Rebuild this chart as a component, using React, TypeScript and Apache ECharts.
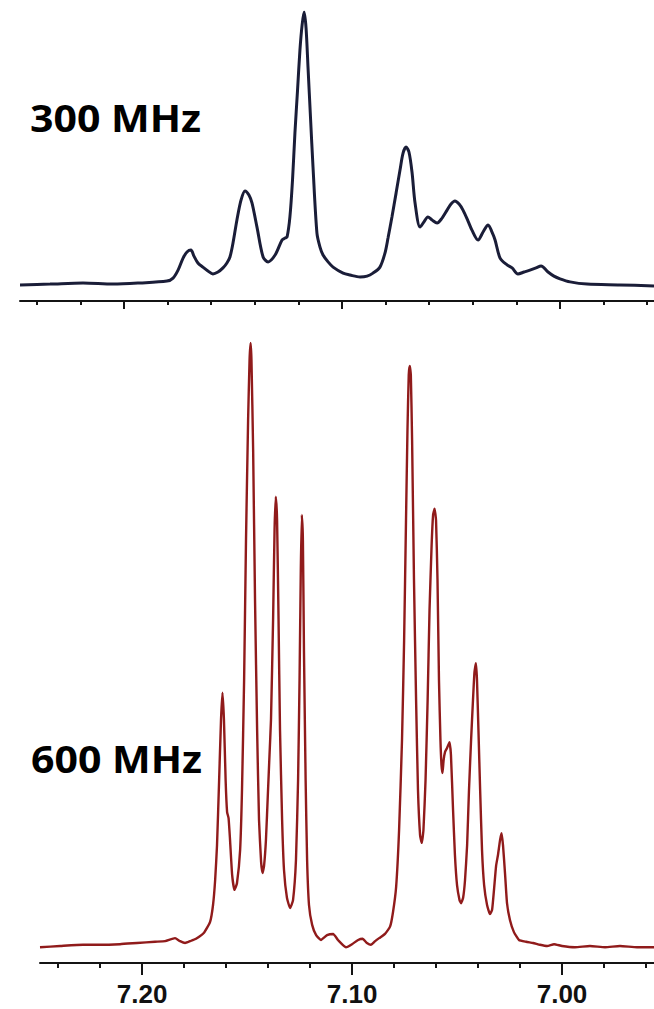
import React, { useEffect, useRef } from "react";
import * as echarts from "echarts";

// Chemical shift (ppm) vs. relative intensity (%), 300 MHz trace
const spectrum300: [number, number][] = [
  [7.2477, 0.4], [7.2339, 0.7], [7.2188, 1.1], [7.205, 0.7], [7.1927, 1.1],
  [7.1803, 1.8], [7.1775, 2.9], [7.1752, 5.8], [7.1729, 10.2], [7.1711, 12.4],
  [7.1693, 13.1], [7.1679, 10.9], [7.1661, 8.4], [7.1638, 6.9], [7.1615, 5.5],
  [7.1592, 4.4], [7.1569, 5.1], [7.1546, 6.6], [7.1528, 8.4], [7.1514, 10.6],
  [7.15, 15.7], [7.1482, 24.1], [7.1463, 31.4], [7.1445, 34.7], [7.1427, 33.2],
  [7.1413, 30.3], [7.139, 21.5], [7.1362, 10.6], [7.1339, 8.8], [7.1307, 11.3],
  [7.1275, 16.8], [7.1261, 17.5], [7.1252, 17.9], [7.1239, 25.2], [7.1227, 38.7],
  [7.1216, 55.8], [7.1204, 71.5], [7.1193, 86.1], [7.1183, 95.3], [7.1174, 100],
  [7.1165, 94.2], [7.1156, 79.9], [7.1144, 60.6], [7.1133, 43.4], [7.1115, 19.3],
  [7.1101, 14.2], [7.1087, 11.3], [7.1064, 8.8], [7.1041, 6.9], [7.0995, 4.7],
  [7.0963, 4.0], [7.0917, 3.3], [7.0885, 3.6], [7.0858, 4.7], [7.0826, 6.9],
  [7.0803, 12.0], [7.0789, 17.5], [7.0771, 25.2], [7.0752, 33.9], [7.0734, 42.3],
  [7.072, 48.5], [7.0706, 50.7], [7.0693, 48.9], [7.0679, 41.6], [7.0665, 30.3],
  [7.0642, 21.5], [7.0624, 23.4], [7.0606, 25.2], [7.0587, 24.1], [7.0564, 23.0],
  [7.0541, 24.8], [7.0518, 27.7], [7.05, 29.9], [7.0482, 31.0], [7.0463, 29.9],
  [7.0445, 27.7], [7.0422, 23.7], [7.0404, 20.4], [7.0376, 16.8], [7.0353, 19.7],
  [7.033, 22.3], [7.0312, 19.7], [7.0298, 16.8], [7.0275, 10.2], [7.0243, 7.7],
  [7.022, 6.6], [7.0193, 4.4], [7.0165, 5.1], [7.0138, 5.8], [7.011, 6.6],
  [7.0087, 7.3], [7.0055, 5.1], [7.0028, 3.6], [7.0, 2.6], [6.9954, 1.5],
  [6.9876, 0.7], [6.9725, 0.4], [6.9569, 0],
];

// Chemical shift (ppm) vs. relative intensity (%), 600 MHz trace
const spectrum600: [number, number][] = [
  [7.2486, -0.2], [7.239, 0], [7.2281, 0.2], [7.22, 0.2], [7.2105, 0.3],
  [7.2024, 0.5], [7.1938, 0.7], [7.189, 0.8], [7.1843, 1.3], [7.1819, 0.8],
  [7.1795, 0.5], [7.1771, 0.8], [7.1743, 1.2], [7.1705, 2.2], [7.1676, 4.0],
  [7.1662, 6.8], [7.1652, 10.9], [7.1643, 16.7], [7.1633, 27.5], [7.1624, 37.5],
  [7.1617, 42.0], [7.161, 37.5], [7.1602, 27.5], [7.1595, 22.2], [7.1588, 21.2],
  [7.1581, 17.6], [7.1571, 11.8], [7.156, 9.3], [7.1548, 10.4], [7.1533, 15.9],
  [7.1524, 25.9], [7.1514, 44.1], [7.1505, 67.3], [7.1495, 87.2], [7.1488, 97.2],
  [7.1483, 100], [7.1479, 97.2], [7.1471, 82.3], [7.1462, 57.4], [7.1452, 35.8],
  [7.1443, 20.9], [7.1433, 13.9], [7.1426, 12.1], [7.1419, 13.3], [7.141, 17.6],
  [7.14, 25.9], [7.1393, 31.7], [7.1386, 37.5], [7.1376, 54.1], [7.1369, 69.0],
  [7.1363, 74.5], [7.1357, 70.6], [7.135, 54.1], [7.1343, 35.8], [7.1333, 20.9],
  [7.1324, 12.6], [7.131, 8.0], [7.1295, 6.3], [7.1281, 7.6], [7.1267, 14.3],
  [7.1257, 27.5], [7.125, 44.1], [7.1244, 62.4], [7.1239, 71.5], [7.1234, 67.3],
  [7.1229, 49.1], [7.1221, 27.5], [7.1214, 14.3], [7.1205, 6.8], [7.119, 3.5],
  [7.1171, 1.8], [7.1148, 1.0], [7.1119, 1.8], [7.109, 2.0], [7.1067, 1.0],
  [7.1029, -0.2], [7.1, 0.3], [7.0971, 1.0], [7.095, 1.2], [7.0929, 0.5],
  [7.091, 0.2], [7.089, 0.8], [7.0871, 1.3], [7.0843, 2.0], [7.0819, 3.2],
  [7.0805, 5.6], [7.079, 9.8], [7.0776, 19.2], [7.0762, 34.2], [7.0752, 50.7],
  [7.0743, 70.6], [7.0736, 85.6], [7.073, 94.7], [7.0725, 96.2], [7.072, 94.7],
  [7.0714, 83.9], [7.0705, 60.7], [7.0695, 40.8], [7.0686, 25.9], [7.0676, 18.4],
  [7.0668, 17.1], [7.066, 19.2], [7.065, 27.5], [7.064, 40.8], [7.0631, 55.7],
  [7.0621, 66.5], [7.0614, 71.5], [7.0607, 72.5], [7.06, 70.6], [7.0593, 60.7],
  [7.0586, 44.1], [7.0579, 34.2], [7.0574, 30.0], [7.0569, 28.7], [7.0564, 30.8],
  [7.0557, 32.2], [7.0548, 32.8], [7.0536, 33.8], [7.0529, 31.7], [7.0519, 22.6],
  [7.051, 15.1], [7.05, 10.1], [7.0488, 7.6], [7.0481, 7.1], [7.0471, 8.0],
  [7.0462, 10.9], [7.0452, 16.7], [7.0443, 25.9], [7.0433, 34.2], [7.0424, 40.8],
  [7.0417, 45.4], [7.041, 46.9], [7.0405, 44.1], [7.0398, 35.8], [7.039, 25.9],
  [7.0381, 15.9], [7.0371, 10.1], [7.0357, 6.8], [7.0343, 5.3], [7.0333, 6.0],
  [7.0324, 9.3], [7.0314, 13.3], [7.0305, 15.1], [7.0295, 17.6], [7.0288, 18.7],
  [7.0281, 16.7], [7.0271, 11.8], [7.0262, 7.1], [7.0248, 4.3], [7.0229, 2.3],
  [7.0205, 1.0], [7.0171, 0.7], [7.0138, 0.5], [7.0105, 0.2], [7.0071, 0],
  [7.0038, 0.3], [7.0, 0], [6.9938, -0.2], [6.9867, 0], [6.9795, -0.2],
  [6.9724, 0], [6.9643, -0.2], [6.9562, -0.2],
];

// Axis ticks (ppm)
const majorTicks = [7.2, 7.1, 7.0];
const majorTickLabels = ["7.20", "7.10", "7.00"];
const minorTicks = [7.24, 7.22, 7.18, 7.16, 7.14, 7.12, 7.08, 7.06, 7.04, 7.02, 6.98, 6.96];

// Spectrometer field labels
const fieldLabels = ["300 MHz", "600 MHz"];

const AXIS_COLOR = "#141414";

function shiftAxes(
  gridIndex: number,
  min: number,
  max: number,
  majorLen: number,
  minorLen: number,
  withLabels: boolean
) {
  const base = {
    type: "value",
    gridIndex,
    min,
    max,
    inverse: true,
    position: "bottom",
    splitLine: { show: false },
  };
  return [
    {
      ...base,
      axisLine: { show: true, onZero: false, lineStyle: { color: AXIS_COLOR, width: 2 } },
      axisTick: {
        show: true,
        customValues: majorTicks,
        length: majorLen,
        lineStyle: { color: AXIS_COLOR, width: 2 },
      },
      axisLabel: withLabels
        ? {
            show: true,
            customValues: majorTicks,
            margin: 18,
            color: "#111111",
            fontFamily: "Liberation Sans",
            fontWeight: "bold",
            fontSize: 26,
            formatter: (v: number) => {
              const i = majorTicks.findIndex((t) => Math.abs(t - v) < 1e-6);
              return i >= 0 ? majorTickLabels[i] : "";
            },
          }
        : { show: false },
    },
    {
      ...base,
      axisLine: { show: false, onZero: false },
      axisTick: {
        show: true,
        customValues: minorTicks,
        length: minorLen,
        lineStyle: { color: AXIS_COLOR, width: 2 },
      },
      axisLabel: { show: false },
    },
  ];
}

export default function App() {
  const ref = useRef<HTMLDivElement>(null);

  useEffect(() => {
    if (!ref.current) return;
    const chart = echarts.init(ref.current, null, { renderer: "svg" });

    const option = {
      animation: false,
      backgroundColor: "#ffffff",
      grid: [
        { left: 20, right: 0, top: 12, height: 289 },
        { left: 40, right: 0, top: 343, height: 620 },
      ],
      xAxis: [
        ...shiftAxes(0, 6.9569, 7.2477, 8, 4, false),
        ...shiftAxes(1, 6.9562, 7.2486, 12, 5, true),
      ],
      yAxis: [
        { type: "value", gridIndex: 0, min: -5.47, max: 100, show: false },
        { type: "value", gridIndex: 1, min: -2.82, max: 100, show: false },
      ],
      series: [
        {
          name: fieldLabels[0],
          type: "line",
          xAxisIndex: 0,
          yAxisIndex: 0,
          data: spectrum300,
          showSymbol: false,
          smooth: 0.3,
          lineStyle: { color: "#1a1d38", width: 3 },
        },
        {
          name: fieldLabels[1],
          type: "line",
          xAxisIndex: 2,
          yAxisIndex: 1,
          data: spectrum600,
          showSymbol: false,
          smooth: 0.15,
          lineStyle: { color: "#901b1b", width: 2.4 },
        },
      ],
      graphic: [
        {
          type: "text",
          x: 30,
          y: 118,
          scaleX: 1.08,
          style: {
            text: fieldLabels[0],
            font: 'bold 38px "Open Sans"',
            fill: "#000000",
            align: "left",
            verticalAlign: "middle",
          },
        },
        {
          type: "text",
          x: 31,
          y: 759,
          scaleX: 1.08,
          style: {
            text: fieldLabels[1],
            font: 'bold 38px "Open Sans"',
            fill: "#000000",
            align: "left",
            verticalAlign: "middle",
          },
        },
      ],
    };

    chart.setOption(option as any);
    return () => chart.dispose();
  }, []);

  return (
    <div
      ref={ref}
      style={{ position: "absolute", left: 0, top: 0, width: 654, height: 1009, background: "#fff" }}
    />
  );
}
